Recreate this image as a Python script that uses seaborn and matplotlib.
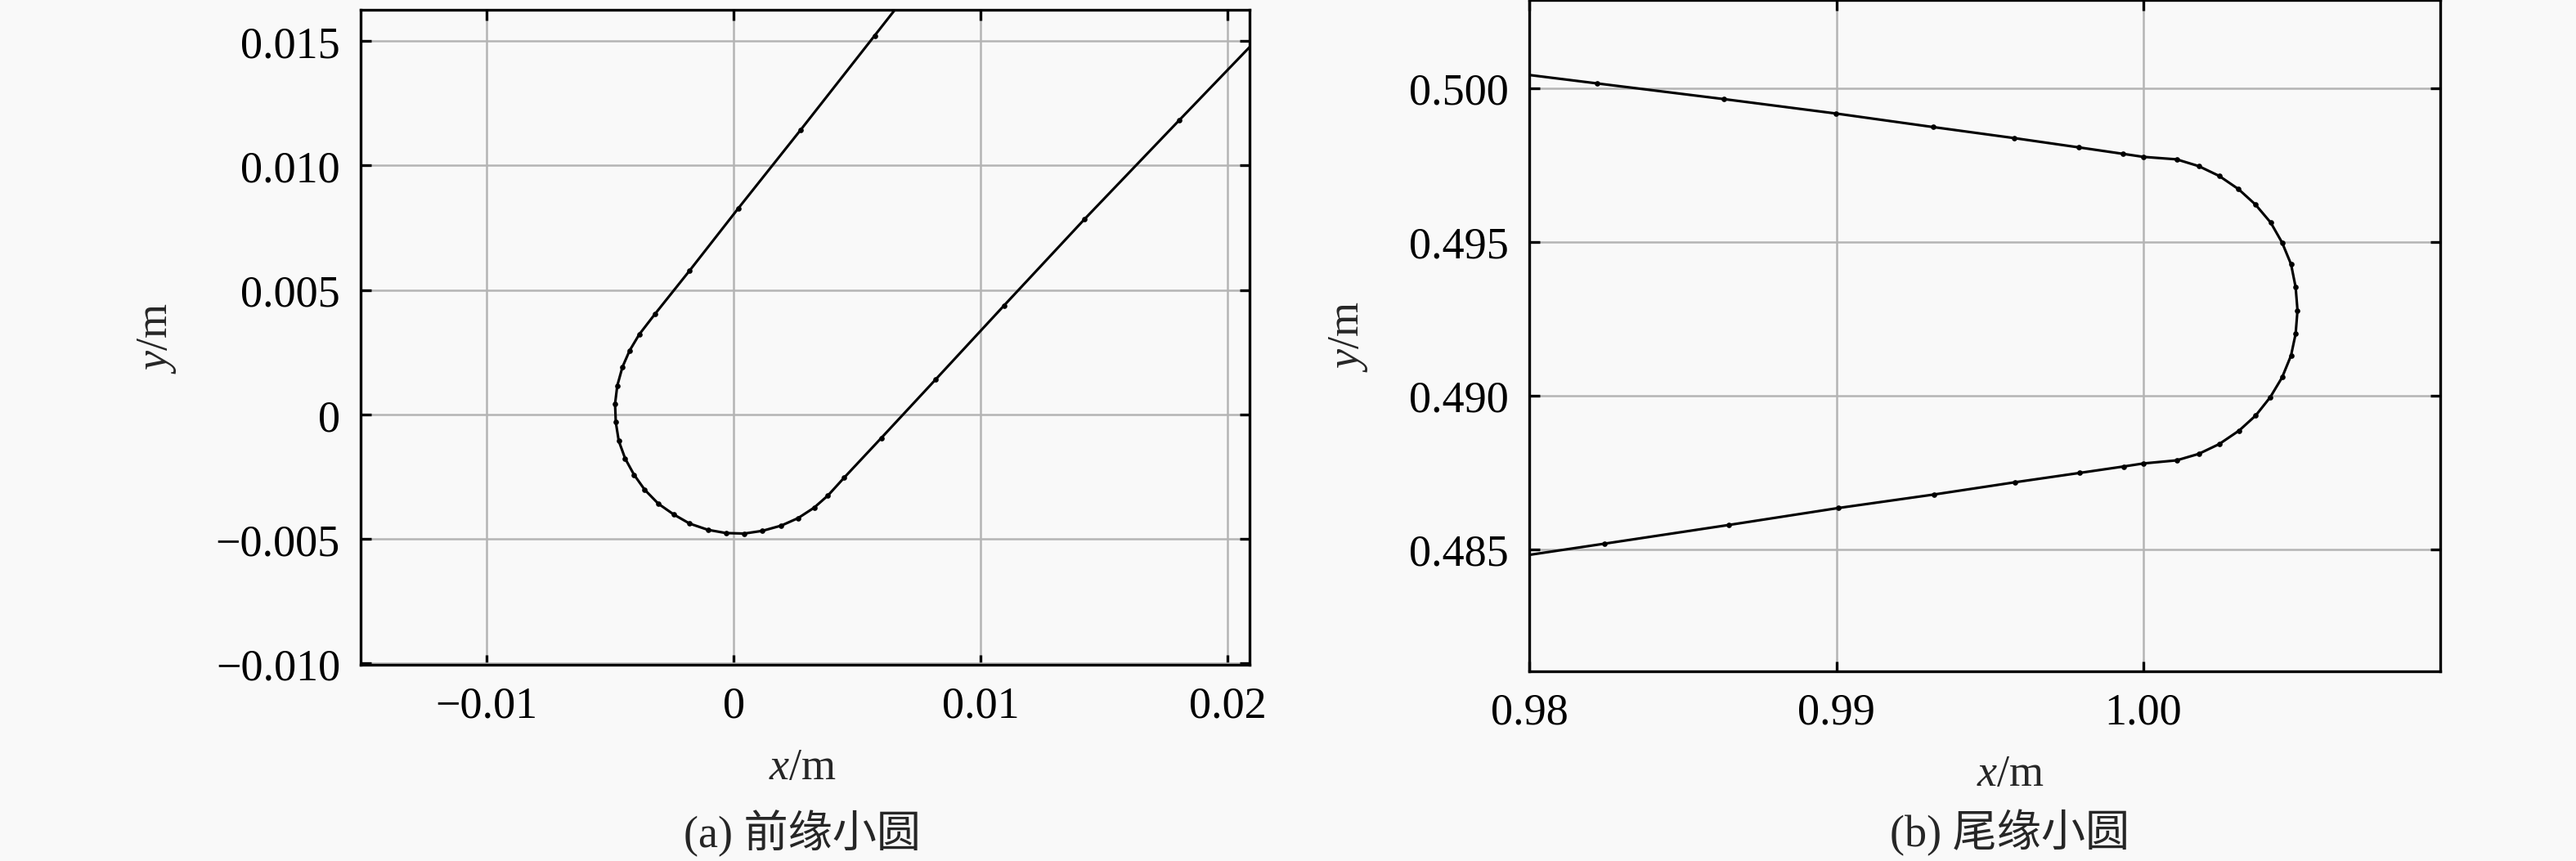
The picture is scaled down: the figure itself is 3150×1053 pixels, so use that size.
import numpy as np
import pandas as pd
import matplotlib.pyplot as plt
import seaborn as sns

# ── data ─────────────────────────────────────────────────────────────────────
# (a) leading-edge small circle: upper line -> arc -> lower line
le_x = [0.0087, 0.00571, 0.00272, 0.00018, -0.00179, -0.00319,
        -0.00382, -0.00421, -0.00450, -0.00471, -0.00480, -0.00477,
        -0.00465, -0.00439, -0.00403, -0.00360, -0.00305, -0.00243,
        -0.00178, -0.00104, -0.00031, 0.00043, 0.00117, 0.00193,
        0.00261, 0.00326, 0.00382, 0.00448, 0.00598, 0.00818,
        0.01094, 0.01420, 0.01803, 0.0219]
le_y = [0.0190, 0.01522, 0.01144, 0.00827, 0.00577, 0.00403,
        0.00322, 0.00257, 0.00191, 0.00116, 0.00043, -0.00031,
        -0.00106, -0.00177, -0.00242, -0.00302, -0.00358, -0.00401,
        -0.00438, -0.00463, -0.00476, -0.00478, -0.00467, -0.00446,
        -0.00416, -0.00374, -0.00325, -0.00253, -0.00094, 0.00141,
        0.00437, 0.00784, 0.01181, 0.0158]

# (b) trailing-edge small circle: upper line -> arc -> lower line
te_x = [0.9776, 0.98220, 0.98633, 0.98999, 0.99315, 0.99580, 0.99789,
        0.99933, 1.00000, 1.00108, 1.00180, 1.00247, 1.00310, 1.00365,
        1.00415, 1.00452, 1.00481, 1.00496, 1.00502, 1.00496, 1.00481,
        1.00452, 1.00413, 1.00366, 1.00312, 1.00247, 1.00180, 1.00108,
        1.00000, 0.99935, 0.99791, 0.99583, 0.99318, 0.99006, 0.98650,
        0.98244, 0.9776]
te_y = [0.50072, 0.50015, 0.49964, 0.49917, 0.49873, 0.49837, 0.49807,
        0.49786, 0.49776, 0.49768, 0.49746, 0.49714, 0.49671, 0.49621,
        0.49562, 0.49497, 0.49427, 0.49352, 0.49277, 0.49201, 0.49130,
        0.49059, 0.48994, 0.48935, 0.48886, 0.48842, 0.48810, 0.48789,
        0.48779, 0.48769, 0.48748, 0.48718, 0.48678, 0.48634, 0.48579,
        0.48518, 0.48446]

le_xticks = [-0.01, 0, 0.01, 0.02]
le_xlabels = ["\u22120.01", "0", "0.01", "0.02"]
le_yticks = [-0.010, -0.005, 0, 0.005, 0.010, 0.015]
le_ylabels = ["\u22120.010", "\u22120.005", "0", "0.005", "0.010", "0.015"]

te_xticks = [0.98, 0.99, 1.00]
te_xlabels = ["0.98", "0.99", "1.00"]
te_yticks = [0.485, 0.490, 0.495, 0.500]
te_ylabels = ["0.485", "0.490", "0.495", "0.500"]

captions = ["(a) 前缘小圆", "(b) 尾缘小圆"]

df_le = pd.DataFrame({"x": le_x, "y": le_y})
df_te = pd.DataFrame({"x": te_x, "y": te_y})

# ── style ────────────────────────────────────────────────────────────────────
sns.set_theme(style="ticks")
bg = "#f9f9f9"
plt.rcParams["font.family"] = ["Liberation Serif", "Noto Sans CJK SC"]
plt.rcParams["mathtext.fontset"] = "custom"
plt.rcParams["mathtext.rm"] = "Liberation Serif"
plt.rcParams["mathtext.it"] = "Liberation Serif:italic"
plt.rcParams["axes.unicode_minus"] = True

fig = plt.figure(figsize=(10.5, 3.5133), dpi=300, facecolor=bg)
ax1 = fig.add_axes([0.140, 0.2277, 0.3451, 0.7604])
ax2 = fig.add_axes([0.5937, 0.2201, 0.3536, 0.7789])

for ax, df in [(ax1, df_le), (ax2, df_te)]:
    ax.set_facecolor(bg)
    ax.grid(True, color="#b4b4b4", lw=0.6)
    ax.set_axisbelow(True)
    sns.lineplot(data=df, x="x", y="y", sort=False, estimator=None,
                 color="black", lw=0.75, marker="o", markersize=1.6,
                 markeredgewidth=0, ax=ax)
    for s in ax.spines.values():
        s.set_color("black")
        s.set_linewidth(0.8)
    ax.tick_params(direction="in", length=3, width=0.8, top=True, right=True,
                   labelsize=13, pad=6, colors="black")

ax1.set_xlim(-0.0151, 0.02089)
ax1.set_ylim(-0.01005, 0.01627)
ax1.set_xticks(le_xticks, le_xlabels)
ax1.set_yticks(le_yticks, le_ylabels)

ax2.set_xlim(0.98, 1.00967)
ax2.set_ylim(0.48103, 0.50286)
ax2.set_xticks(te_xticks, te_xlabels)
ax2.set_yticks(te_yticks, te_ylabels)

for ax, xl, yl in [(ax1, (0.497, -0.125), (-0.205, 0.5)),
                   (ax2, (0.528, -0.122), (-0.175, 0.5))]:
    ax.set_xlabel("$x$/m", fontsize=13, va="top")
    ax.set_ylabel("$y$/m", fontsize=13)
    ax.xaxis.set_label_coords(*xl)
    ax.yaxis.set_label_coords(*yl)

fig.text(0.3114, 0.0332, captions[0], ha="center", va="center", fontsize=13)
fig.text(0.7803, 0.0332, captions[1], ha="center", va="center", fontsize=13)

fig.savefig("out.png", dpi=300, facecolor=bg)
